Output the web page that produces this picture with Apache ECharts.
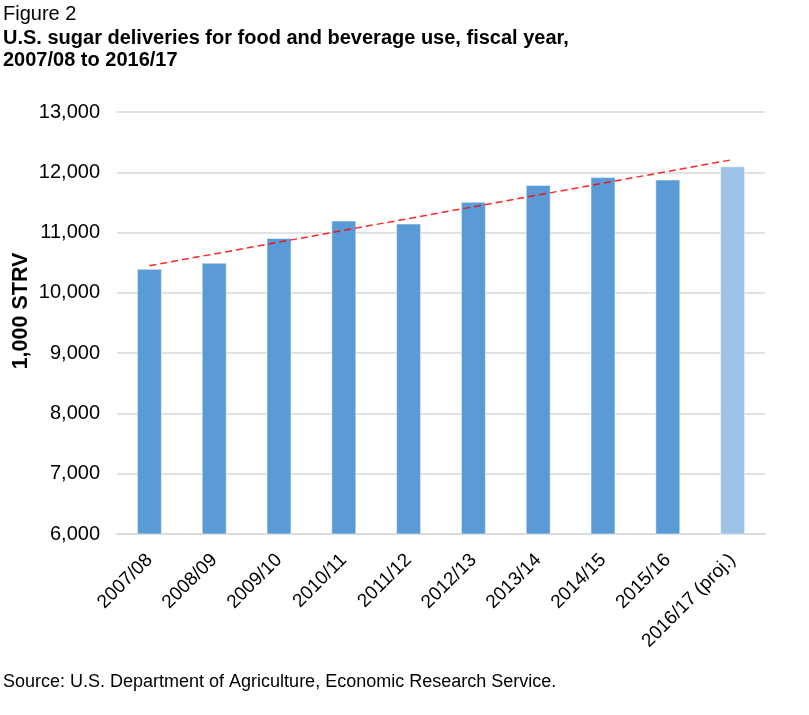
<!DOCTYPE html>
<html>
<head>
<meta charset="utf-8">
<script src="https://cdn.jsdelivr.net/npm/echarts@6/dist/echarts.min.js"></script>
<style>
  html, body { margin: 0; padding: 0; background: #fff; }
  #chart { width: 809px; height: 715px; }
</style>
</head>
<body>
<div id="chart"></div>
<script>
// fiscal years on the x axis
const categories = [
  "2007/08", "2008/09", "2009/10", "2010/11", "2011/12",
  "2012/13", "2013/14", "2014/15", "2015/16", "2016/17 (proj.)"
];
// deliveries, 1,000 STRV
const deliveries = [10400, 10500, 10910, 11200, 11150, 11510, 11790, 11920, 11880, 12100];
// linear trend line, value at first and last category
const trendEnds = [10450, 12210];
// y axis ticks
const yMin = 6000;
const yMax = 13000;
const yStep = 1000;

const projectedIndex = categories.length - 1;
const font = "'Liberation Sans', Arial, sans-serif";

const chart = echarts.init(document.getElementById("chart"));

const barData = deliveries.map((v, i) => ({
  value: v,
  itemStyle: { color: i === projectedIndex ? "#9DC3E6" : "#5B9BD5" }
}));

const trendData = categories.map((c, i) => {
  if (i === 0) return trendEnds[0];
  if (i === categories.length - 1) return trendEnds[1];
  return null;
});

chart.setOption({
  animation: false,
  textStyle: { fontFamily: font },
  title: [
    {
      text: "Figure 2",
      left: 3,
      top: 3,
      padding: 0,
      textStyle: { fontFamily: font, fontSize: 20, lineHeight: 22, fontWeight: "normal", color: "#000" }
    },
    {
      text: "U.S. sugar deliveries for food and beverage use, fiscal year,\n2007/08 to 2016/17",
      left: 3,
      top: 28,
      padding: 0,
      textStyle: { fontFamily: font, fontSize: 20, lineHeight: 21.5, fontWeight: "bold", color: "#000" }
    },
    {
      text: "Source: U.S. Department of Agriculture, Economic Research Service.",
      left: 3,
      top: 673,
      padding: 0,
      textStyle: { fontFamily: font, fontSize: 18, lineHeight: 18, fontWeight: "normal", color: "#000" }
    }
  ],
  graphic: [
    {
      type: "text",
      x: 21,
      y: 311,
      rotation: Math.PI / 2,
      style: {
        text: "1,000 STRV",
        fontFamily: font,
        fontSize: 21.5,
        fontWeight: "bold",
        fill: "#000",
        align: "center",
        verticalAlign: "middle"
      }
    }
  ],
  grid: { left: 117, right: 44, top: 112, bottom: 181 },
  xAxis: {
    type: "category",
    data: categories,
    axisLine: { lineStyle: { color: "#D9D9D9", width: 1.5 } },
    axisTick: { show: false },
    axisLabel: {
      rotate: 45,
      interval: 0,
      margin: 23,
      fontFamily: font,
      fontSize: 19,
      color: "#000"
    }
  },
  yAxis: {
    type: "value",
    min: yMin,
    max: yMax,
    interval: yStep,
    axisLine: { show: false },
    axisTick: { show: false },
    splitLine: { lineStyle: { color: "#D9D9D9", width: 1.5 } },
    axisLabel: {
      margin: 17,
      fontFamily: font,
      fontSize: 20,
      color: "#000",
      formatter: (v) => v.toLocaleString("en-US")
    }
  },
  series: [
    {
      name: "Deliveries",
      type: "bar",
      data: barData,
      barWidth: 25,
      itemStyle: { borderColor: "rgba(255,255,255,0.5)", borderWidth: 1 }
    },
    {
      name: "Trend",
      type: "line",
      data: trendData,
      connectNulls: true,
      symbol: "none",
      z: 5,
      lineStyle: { color: "rgba(255,0,0,0.85)", width: 1.5, type: [7, 4] }
    }
  ]
});
</script>
</body>
</html>
